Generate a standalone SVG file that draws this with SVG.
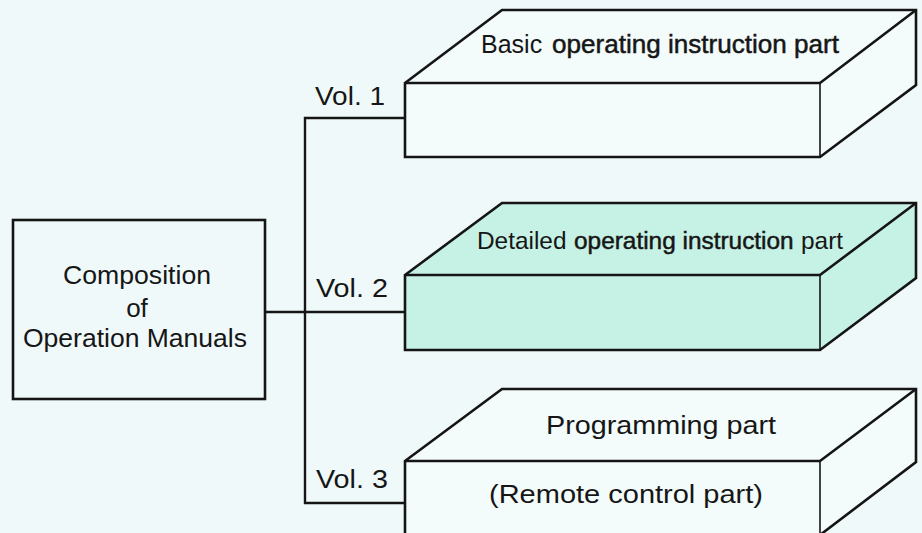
<svg xmlns="http://www.w3.org/2000/svg" width="922" height="533" viewBox="0 0 922 533">
<defs>
<style>
.bg{fill:#eff9f9}
.edge{stroke:#151515;stroke-width:2.6;stroke-linejoin:miter;fill:none}
.thin{stroke:#151515;stroke-width:1.6;fill:none}
.plain{fill:#f3fbfb}
.teal{fill:#c6f1e5}
.conn{stroke:#151515;stroke-width:2.4;fill:none}
text{font-family:"Liberation Sans",Arial,Helvetica,sans-serif;fill:#161616}
.lab{font-size:26px}
.sm{font-size:24.4px}
.vol{font-size:26.5px}
.bold{stroke:#161616;stroke-width:0.5}
</style>
</defs>
<rect class="bg" x="0" y="0" width="922" height="533"/>

<g id="connectors">
<polyline class="conn" points="265,312 405,312"/>
<polyline class="conn" points="405,118 305,118 305,503 405,503"/>
<text class="vol" x="315" y="105" textLength="70" lengthAdjust="spacingAndGlyphs">Vol. 1</text>
<text class="vol" x="316" y="297" textLength="72" lengthAdjust="spacingAndGlyphs">Vol. 2</text>
<text class="vol" x="316" y="488" textLength="72" lengthAdjust="spacingAndGlyphs">Vol. 3</text>
</g>

<g id="composition">
<rect x="13" y="220" width="252" height="179" fill="#f3fbfb" class="edge"/>
<text class="lab" x="137" y="284" text-anchor="middle" textLength="148" lengthAdjust="spacingAndGlyphs">Composition</text>
<text class="lab" x="137" y="317" text-anchor="middle">of</text>
<text class="lab" x="135" y="347" text-anchor="middle" textLength="224" lengthAdjust="spacingAndGlyphs">Operation Manuals</text>
</g>

<g id="vol1-basic">
<polygon class="plain" points="405,83 502,10 916,10 916,85 820,157 405,157"/>
<polygon class="edge" points="405,83 502,10 916,10 916,85 820,157 405,157"/>
<polyline class="edge" points="405,83 820,83 916,10"/>
<line class="thin" x1="820" y1="83" x2="820" y2="157"/>
<text class="lab" x="481" y="53" style="font-size:25px">Basic</text>
<text class="lab bold" x="552" y="53" textLength="287" lengthAdjust="spacingAndGlyphs">operating instruction part</text>
</g>

<g id="vol2-detailed">
<polygon class="teal" points="405,275 502,203 916,203 916,278 820,350 405,350"/>
<polygon class="edge" points="405,275 502,203 916,203 916,278 820,350 405,350"/>
<polyline class="edge" points="405,275 820,275 916,203"/>
<line class="thin" x1="820" y1="275" x2="820" y2="350"/>
<text class="sm" x="477" y="249">Detailed</text>
<text class="sm bold" x="574" y="249">operating instruction</text>
<text class="sm" x="801" y="249">part</text>
</g>

<g id="vol3-programming">
<polygon class="plain" points="405,461 502,389 916,389 916,462 820,535 405,535"/>
<polygon class="edge" points="405,461 502,389 916,389 916,462 820,535 405,535"/>
<polyline class="edge" points="405,461 820,461 916,389"/>
<line class="thin" x1="820" y1="461" x2="820" y2="535"/>
<text class="lab" x="546" y="434" textLength="230" lengthAdjust="spacingAndGlyphs">Programming part</text>
<text class="lab" x="489" y="503" textLength="274" lengthAdjust="spacingAndGlyphs">(Remote control part)</text>
</g>
</svg>
